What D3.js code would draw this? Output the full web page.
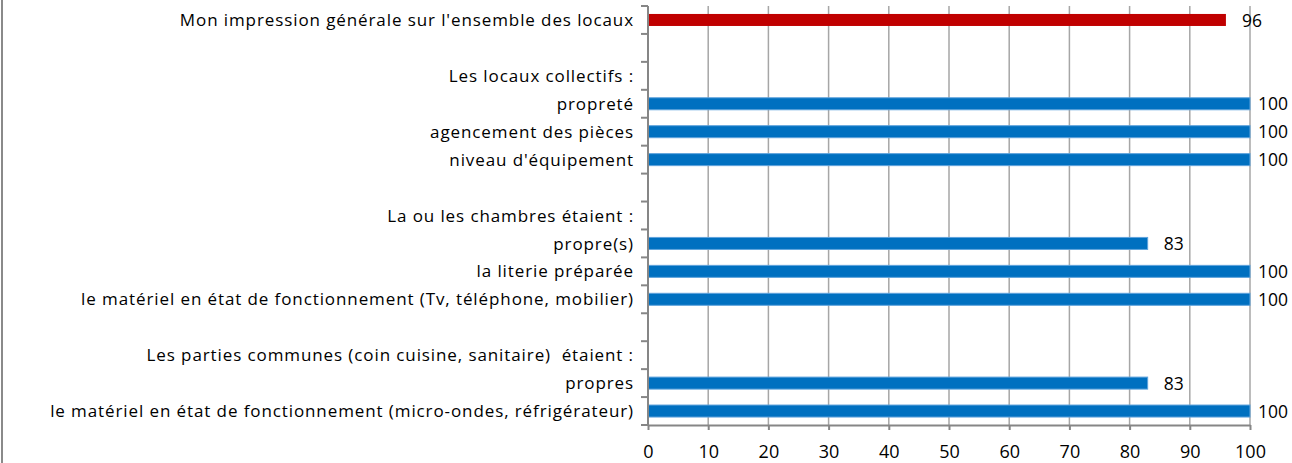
<!DOCTYPE html>
<html>
<head>
<meta charset="utf-8">
<script src="https://cdn.jsdelivr.net/npm/d3@7"></script>
<style>
  html, body { margin: 0; padding: 0; background: #fff; }
  svg { display: block; }
  text { font-family: "Open Sans", "Noto Sans", sans-serif; fill: #000; }
</style>
</head>
<body>
<svg id="chart" width="1292" height="463"></svg>
<script>
// ---- data ----
const categories = [
  "Mon impression générale sur l'ensemble des locaux",
  "",
  "Les locaux collectifs :",
  "propreté",
  "agencement des pièces",
  "niveau d'équipement",
  "",
  "La ou les chambres étaient :",
  "propre(s)",
  "la literie préparée",
  "le matériel en état de fonctionnement (Tv, téléphone, mobilier)",
  "",
  "Les parties communes (coin cuisine, sanitaire)  étaient :",
  "propres",
  "le matériel en état de fonctionnement (micro-ondes, réfrigérateur)"
];
const values = [96, null, null, 100, 100, 100, null, null, 83, 100, 100, null, null, 83, 100];
const highlighted = [true, false, false, false, false, false, false, false, false, false, false, false, false, false, false];
const xTickValues = [0, 10, 20, 30, 40, 50, 60, 70, 80, 90, 100];

// ---- layout ----
const W = 1292, H = 463;
const plot = { left: 648, right: 1250, top: 6, bottom: 425 };
const svg = d3.select("#chart");

const x = d3.scaleLinear().domain([0, 100]).range([plot.left, plot.right]);
const y = d3.scaleBand().domain(d3.range(categories.length)).range([plot.top, plot.bottom]).paddingInner(0.57).paddingOuter(0.285);
const yb = d3.scaleBand().domain(d3.range(categories.length)).range([plot.top, plot.bottom]);

// chart border (left side visible)
svg.append("line").attr("x1", 2).attr("x2", 2).attr("y1", 0).attr("y2", H)
  .attr("stroke", "#8a8a8a").attr("stroke-width", 2);

// gridlines
svg.append("g").selectAll("line").data(xTickValues.filter(d => d > 0)).join("line")
  .attr("x1", d => x(d)).attr("x2", d => x(d))
  .attr("y1", plot.top).attr("y2", plot.bottom)
  .attr("stroke", "#a6a6a6").attr("stroke-width", 1.5);

// bars
const barData = values.map((v, i) => ({ i, v, hi: highlighted[i] })).filter(d => d.v != null);
svg.append("g").selectAll("rect").data(barData).join("rect")
  .attr("x", x(0))
  .attr("y", d => y(d.i))
  .attr("width", d => x(d.v) - x(0))
  .attr("height", y.bandwidth())
  .attr("fill", d => d.hi ? "#C00000" : "#0070C0")
  .attr("stroke", d => d.hi ? "none" : "#5fa3dc")
  .attr("stroke-width", 1);

// x axis
const xAxis = d3.axisBottom(x).tickValues(xTickValues).tickSize(5).tickPadding(15.5).tickSizeOuter(0);
const gx = svg.append("g").attr("transform", `translate(0,${plot.bottom})`).call(xAxis);
gx.select(".domain").attr("stroke", "#868686").attr("stroke-width", 2);
gx.selectAll(".tick line").attr("stroke", "#868686").attr("stroke-width", 2);
gx.selectAll(".tick text").attr("font-size", 18).attr("font-family", '"Open Sans", sans-serif').attr("fill", "#000");

// y axis line and boundary ticks
svg.append("line").attr("x1", plot.left).attr("x2", plot.left).attr("y1", plot.top).attr("y2", plot.bottom)
  .attr("stroke", "#868686").attr("stroke-width", 2);
svg.append("g").selectAll("line").data(d3.range(categories.length + 1)).join("line")
  .attr("x1", plot.left - 7).attr("x2", plot.left)
  .attr("y1", i => i < categories.length ? yb(i) : plot.bottom)
  .attr("y2", i => i < categories.length ? yb(i) : plot.bottom)
  .attr("stroke", "#868686").attr("stroke-width", 2);

// category labels
svg.append("g").selectAll("text").data(categories).join("text")
  .attr("x", plot.left - 14)
  .attr("y", (d, i) => yb(i) + yb.bandwidth() / 2)
  .attr("dy", "0.36em")
  .attr("text-anchor", "end")
  .attr("font-size", 17)
  .attr("letter-spacing", "0.9px")
  .style("white-space", "pre")
  .text(d => d);

// value labels
const vl = svg.append("g").selectAll("text").data(barData).join("text")
  .attr("y", d => yb(d.i) + yb.bandwidth() / 2)
  .attr("dy", "0.38em")
  .attr("font-size", 17.5)
  .text(d => d.v);
vl.attr("x", function(d) {
  const w = this.getComputedTextLength();
  return Math.min(x(d.v) + 16, W - 4 - w);
});
</script>
</body>
</html>
